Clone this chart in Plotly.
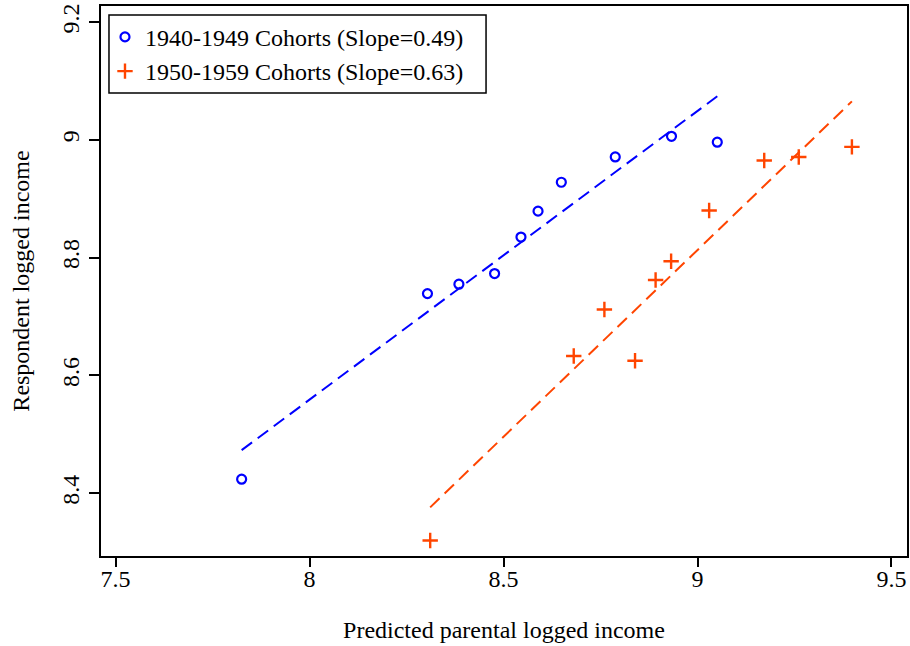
import numpy as np
import plotly.graph_objects as go

# Data
x_1940s = [7.825, 8.304, 8.385, 8.477, 8.545, 8.589, 8.649, 8.788, 8.933, 9.051]
y_1940s = [8.424, 8.739, 8.755, 8.773, 8.835, 8.879, 8.928, 8.971, 9.006, 8.996]
x_1950s = [8.311, 8.681, 8.760, 8.839, 8.892, 8.932, 9.030, 9.172, 9.261, 9.398]
y_1950s = [8.320, 8.633, 8.712, 8.625, 8.762, 8.794, 8.880, 8.965, 8.971, 8.988]

fit_1940s = {"intercept": 4.639, "slope": 0.49}
fit_1950s = {"intercept": 3.107, "slope": 0.634}

names = ["1940-1949 Cohorts (Slope=0.49)", "1950-1959 Cohorts (Slope=0.63)"]
x_ticks = [7.5, 8, 8.5, 9, 9.5]
x_tick_labels = ["7.5", "8", "8.5", "9", "9.5"]
y_ticks = [8.4, 8.6, 8.8, 9.0, 9.2]
y_tick_labels = ["8.4", "8.6", "8.8", "9", "9.2"]

BLUE = "#0000FF"
ORANGE = "#FF4500"
FONT = "Liberation Serif"

W, H = 910, 646
ML, MR, MT, MB = 101, 1, 6, 90
PW, PH = W - ML - MR, H - MT - MB

fig = go.Figure()

for xs, fit, color in [(x_1940s, fit_1940s, BLUE), (x_1950s, fit_1950s, ORANGE)]:
    lx = np.array([min(xs), max(xs)])
    ly = fit["intercept"] + fit["slope"] * lx
    fig.add_trace(go.Scatter(x=lx, y=ly, mode="lines", showlegend=False,
                             line=dict(color=color, width=2, dash="13px,7px"),
                             hoverinfo="skip"))

fig.add_trace(go.Scatter(x=x_1940s, y=y_1940s, mode="markers", name=names[0],
                         marker=dict(symbol="circle-open", size=9, color=BLUE,
                                     line=dict(width=2.2, color=BLUE))))
fig.add_trace(go.Scatter(x=x_1950s, y=y_1950s, mode="markers", name=names[1],
                         marker=dict(symbol="cross-thin-open", size=11, color=ORANGE,
                                     line=dict(width=2.4, color=ORANGE))))

# invisible trace on the secondary x axis that carries the tick marks
fig.add_trace(go.Scatter(x=[None], y=[None], xaxis="x2", yaxis="y",
                         showlegend=False, hoverinfo="skip"))

tickfont = dict(family=FONT, size=24, color="black")
x_range = [7.4625, 9.54]
y_range = [8.2936, 9.2272]

fig.update_layout(
    width=W, height=H,
    margin=dict(l=ML, r=MR, t=MT, b=MB),
    paper_bgcolor="white", plot_bgcolor="white",
    font=dict(family=FONT, size=24, color="black"),
    xaxis=dict(range=x_range, tickvals=x_ticks, ticktext=x_tick_labels,
               showgrid=False, zeroline=False, showline=True, linecolor="black",
               linewidth=2, mirror=True, ticks="", tickfont=tickfont,
               title=dict(text="Predicted parental logged income", standoff=30,
                          font=dict(family=FONT, size=24))),
    xaxis2=dict(range=x_range, overlaying="x", side="bottom", tickvals=x_ticks,
                showticklabels=False, showgrid=False, zeroline=False, showline=False,
                ticks="outside", ticklen=10, tickwidth=2, tickcolor="black"),
    yaxis=dict(range=y_range, tickvals=y_ticks, ticktext=y_tick_labels,
               tickangle=-90, showgrid=False, zeroline=False, showline=True,
               linecolor="black", linewidth=2, mirror=True, ticks="outside",
               ticklen=10, tickwidth=2, tickcolor="black", tickfont=tickfont,
               title=dict(text="Respondent logged income", standoff=22,
                          font=dict(family=FONT, size=24))),
    legend=dict(x=(105 - ML) / PW, y=0.984, xanchor="left", yanchor="top",
                borderwidth=0, bgcolor="rgba(0,0,0,0)",
                font=dict(family=FONT, size=24, color="black"),
                itemsizing="trace", tracegroupgap=0),
    shapes=[dict(type="rect", xref="paper", yref="paper",
                 x0=(109 - ML) / PW, x1=(487 - ML) / PW,
                 y0=(H - MB - 93) / PH, y1=(H - MB - 15) / PH,
                 line=dict(color="black", width=1.5), fillcolor="white", layer="below")],
    showlegend=True,
)

fig.write_html("out.html", config={"displayModeBar": False},
               post_script="document.body.style.margin='0px';")
